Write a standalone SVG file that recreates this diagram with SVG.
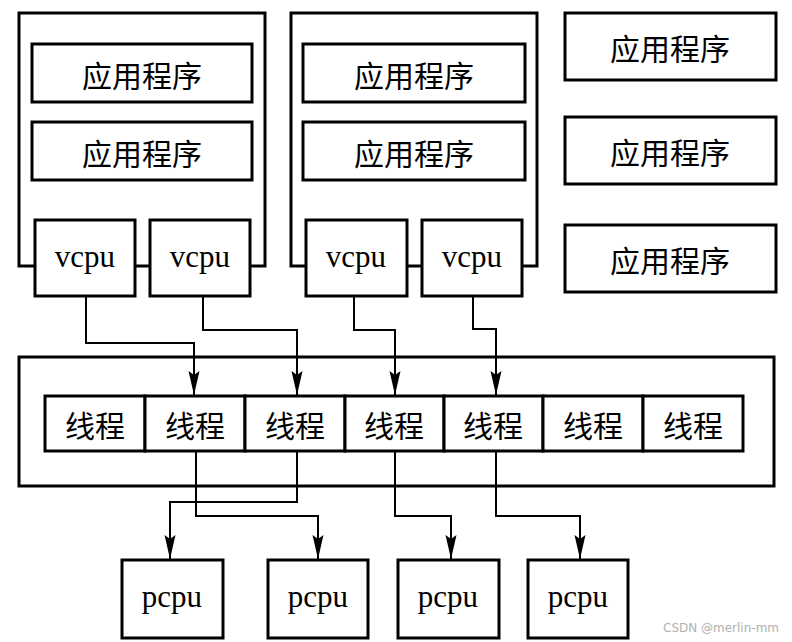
<svg xmlns="http://www.w3.org/2000/svg" width="792" height="642" viewBox="0 0 792 642">
<defs>
<style>
.box{fill:#fff;stroke:#000;stroke-width:3}
.frame{fill:none;stroke:#000;stroke-width:3}
.cn{font-family:"Noto Sans CJK SC","Noto Sans CJK TC",sans-serif;font-size:30px;fill:#000;text-anchor:middle;dominant-baseline:central}
.en{font-family:"Liberation Serif",serif;font-size:31px;fill:#000;text-anchor:middle}
.conn{fill:none;stroke:#000;stroke-width:2}
.wm{font-family:"DejaVu Sans",sans-serif;font-size:12px;fill:#b0b0b0}
</style>
<marker id="arr" markerUnits="userSpaceOnUse" markerWidth="26" markerHeight="12" refX="24" refY="5.5" orient="auto">
<path d="M0,0 L24,5.5 L0,11 L4,5.5 z" fill="#000"/>
</marker>
</defs>
<rect width="792" height="642" fill="#fff"/>

<g id="vm1">
<rect class="frame" x="19" y="13" width="246" height="253"/>
<g id="vm1-app1"><rect class="box" x="32" y="44" width="220" height="58"/><text class="cn" x="142" y="74">应用程序</text></g>
<g id="vm1-app2"><rect class="box" x="32" y="122" width="220" height="58"/><text class="cn" x="142" y="152">应用程序</text></g>
<g id="vm1-vcpu1"><rect class="box" x="35" y="220" width="100" height="76"/><text class="en" x="85" y="267">vcpu</text></g>
<g id="vm1-vcpu2"><rect class="box" x="150" y="220" width="100" height="76"/><text class="en" x="200" y="267">vcpu</text></g>
</g>

<g id="vm2">
<rect class="frame" x="291" y="13" width="246" height="253"/>
<g id="vm2-app1"><rect class="box" x="303" y="44" width="222" height="58"/><text class="cn" x="414" y="74">应用程序</text></g>
<g id="vm2-app2"><rect class="box" x="303" y="122" width="222" height="58"/><text class="cn" x="414" y="152">应用程序</text></g>
<g id="vm2-vcpu1"><rect class="box" x="306" y="220" width="101" height="76"/><text class="en" x="356" y="267">vcpu</text></g>
<g id="vm2-vcpu2"><rect class="box" x="422" y="220" width="100" height="76"/><text class="en" x="472" y="267">vcpu</text></g>
</g>

<g id="app-r1"><rect class="box" x="565" y="13" width="211" height="67"/><text class="cn" x="670" y="47">应用程序</text></g>
<g id="app-r2"><rect class="box" x="565" y="117" width="211" height="67"/><text class="cn" x="670" y="151">应用程序</text></g>
<g id="app-r3"><rect class="box" x="565" y="225" width="211" height="67"/><text class="cn" x="670" y="259">应用程序</text></g>

<g id="host">
<rect class="frame" x="19" y="357" width="755" height="129"/>
<g id="t1"><rect class="box" x="45" y="396" width="100" height="55"/><text class="cn" x="95" y="424">线程</text></g>
<g id="t2"><rect class="box" x="145" y="396" width="100" height="55"/><text class="cn" x="195" y="424">线程</text></g>
<g id="t3"><rect class="box" x="245" y="396" width="100" height="55"/><text class="cn" x="295" y="424">线程</text></g>
<g id="t4"><rect class="box" x="345" y="396" width="99" height="55"/><text class="cn" x="394" y="424">线程</text></g>
<g id="t5"><rect class="box" x="444" y="396" width="99" height="55"/><text class="cn" x="493" y="424">线程</text></g>
<g id="t6"><rect class="box" x="543" y="396" width="100" height="55"/><text class="cn" x="593" y="424">线程</text></g>
<g id="t7"><rect class="box" x="643" y="396" width="100" height="55"/><text class="cn" x="693" y="424">线程</text></g>
</g>

<g id="pcpu1"><rect class="box" x="122" y="560" width="101" height="78"/><text class="en" x="172" y="607">pcpu</text></g>
<g id="pcpu2"><rect class="box" x="268" y="560" width="100" height="78"/><text class="en" x="318" y="607">pcpu</text></g>
<g id="pcpu3"><rect class="box" x="398" y="560" width="101" height="78"/><text class="en" x="448" y="607">pcpu</text></g>
<g id="pcpu4"><rect class="box" x="528" y="560" width="100" height="78"/><text class="en" x="578" y="607">pcpu</text></g>

<g id="connectors">
<path class="conn" d="M86,297 V343 H194 V395" marker-end="url(#arr)"/>
<path class="conn" d="M203,297 V330 H297 V395" marker-end="url(#arr)"/>
<path class="conn" d="M354,297 V330 H395 V395" marker-end="url(#arr)"/>
<path class="conn" d="M473,297 V329 H496 V395" marker-end="url(#arr)"/>
<path class="conn" d="M297,452 V502 H170 V559" marker-end="url(#arr)"/>
<path class="conn" d="M196,452 V516 H318 V559" marker-end="url(#arr)"/>
<path class="conn" d="M395,452 V516 H451 V559" marker-end="url(#arr)"/>
<path class="conn" d="M496,452 V516 H580 V559" marker-end="url(#arr)"/>
</g>

<text class="wm" x="663" y="632">CSDN @merlin-mm</text>
</svg>
